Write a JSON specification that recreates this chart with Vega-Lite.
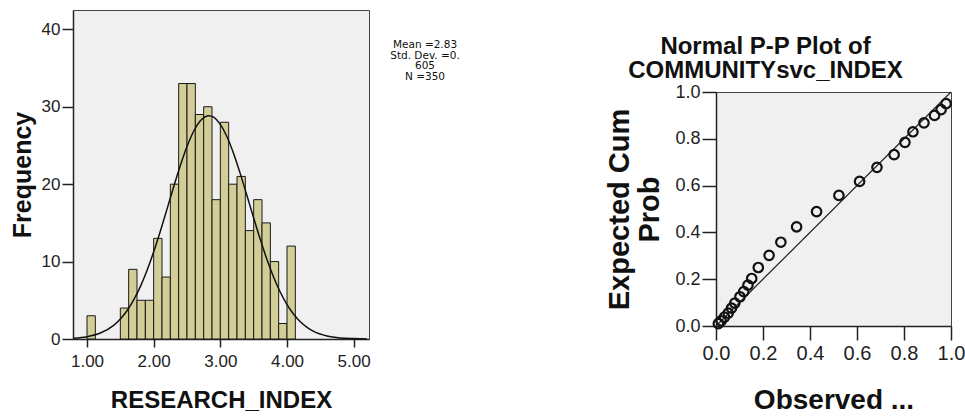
{
  "$schema": "https://vega.github.io/schema/vega-lite/v6.json",
  "background": "white",
  "padding": {"left": 9, "top": 9, "right": 0, "bottom": 0},
  "spacing": 144,
  "config": {
    "font": "Liberation Sans",
    "view": {"fill": "#f0f0f0", "stroke": "#444444", "strokeWidth": 1},
    "axis": {
      "grid": false,
      "domainColor": "#222222",
      "domainWidth": 1.5,
      "tickColor": "#222222",
      "tickWidth": 1.5,
      "labelColor": "#222222",
      "titleColor": "#111111",
      "labelFont": "Liberation Sans",
      "titleFont": "Liberation Sans",
      "titleFontWeight": "bold",
      "labelFlush": false,
      "labelOverlap": false
    }
  },
  "datasets": {
    "bins": [
      {"bin_start": 1.0, "bin_end": 1.125, "count": 3},
      {"bin_start": 1.5, "bin_end": 1.625, "count": 4},
      {"bin_start": 1.625, "bin_end": 1.75, "count": 9},
      {"bin_start": 1.75, "bin_end": 1.875, "count": 5},
      {"bin_start": 1.875, "bin_end": 2.0, "count": 5},
      {"bin_start": 2.0, "bin_end": 2.125, "count": 13},
      {"bin_start": 2.125, "bin_end": 2.25, "count": 8},
      {"bin_start": 2.25, "bin_end": 2.375, "count": 20},
      {"bin_start": 2.375, "bin_end": 2.5, "count": 33},
      {"bin_start": 2.5, "bin_end": 2.625, "count": 33},
      {"bin_start": 2.625, "bin_end": 2.75, "count": 29},
      {"bin_start": 2.75, "bin_end": 2.875, "count": 30},
      {"bin_start": 2.875, "bin_end": 3.0, "count": 18},
      {"bin_start": 3.0, "bin_end": 3.125, "count": 28},
      {"bin_start": 3.125, "bin_end": 3.25, "count": 20},
      {"bin_start": 3.25, "bin_end": 3.375, "count": 21},
      {"bin_start": 3.375, "bin_end": 3.5, "count": 14},
      {"bin_start": 3.5, "bin_end": 3.625, "count": 18},
      {"bin_start": 3.625, "bin_end": 3.75, "count": 15},
      {"bin_start": 3.75, "bin_end": 3.875, "count": 10},
      {"bin_start": 3.875, "bin_end": 4.0, "count": 2},
      {"bin_start": 4.0, "bin_end": 4.125, "count": 12}
    ],
    "curve": [
      {"x": 0.8, "freq": 0.10},
      {"x": 1.0, "freq": 0.30},
      {"x": 1.2, "freq": 0.77},
      {"x": 1.4, "freq": 1.77},
      {"x": 1.5, "freq": 2.58},
      {"x": 1.6, "freq": 3.65},
      {"x": 1.7, "freq": 5.04},
      {"x": 1.8, "freq": 6.77},
      {"x": 1.9, "freq": 8.85},
      {"x": 2.0, "freq": 11.26},
      {"x": 2.1, "freq": 13.93},
      {"x": 2.2, "freq": 16.78},
      {"x": 2.3, "freq": 19.66},
      {"x": 2.4, "freq": 22.41},
      {"x": 2.5, "freq": 24.86},
      {"x": 2.6, "freq": 26.84},
      {"x": 2.7, "freq": 28.19},
      {"x": 2.8, "freq": 28.81},
      {"x": 2.83, "freq": 28.85},
      {"x": 2.9, "freq": 28.66},
      {"x": 3.0, "freq": 27.73},
      {"x": 3.1, "freq": 26.12},
      {"x": 3.2, "freq": 23.93},
      {"x": 3.3, "freq": 21.33},
      {"x": 3.4, "freq": 18.51},
      {"x": 3.5, "freq": 15.63},
      {"x": 3.6, "freq": 12.84},
      {"x": 3.7, "freq": 10.26},
      {"x": 3.8, "freq": 7.98},
      {"x": 3.9, "freq": 6.04},
      {"x": 4.0, "freq": 4.45},
      {"x": 4.1, "freq": 3.19},
      {"x": 4.2, "freq": 2.22},
      {"x": 4.3, "freq": 1.51},
      {"x": 4.4, "freq": 0.99},
      {"x": 4.6, "freq": 0.40},
      {"x": 4.8, "freq": 0.14},
      {"x": 5.0, "freq": 0.05},
      {"x": 5.2, "freq": 0.01}
    ],
    "pp": [
      {"observed": 0.010, "expected": 0.010},
      {"observed": 0.022, "expected": 0.022},
      {"observed": 0.036, "expected": 0.038},
      {"observed": 0.052, "expected": 0.055},
      {"observed": 0.066, "expected": 0.076},
      {"observed": 0.080, "expected": 0.098},
      {"observed": 0.102, "expected": 0.125},
      {"observed": 0.118, "expected": 0.147},
      {"observed": 0.136, "expected": 0.175},
      {"observed": 0.152, "expected": 0.203},
      {"observed": 0.180, "expected": 0.250},
      {"observed": 0.226, "expected": 0.302},
      {"observed": 0.276, "expected": 0.358},
      {"observed": 0.343, "expected": 0.424},
      {"observed": 0.428, "expected": 0.489},
      {"observed": 0.523, "expected": 0.558},
      {"observed": 0.611, "expected": 0.618},
      {"observed": 0.685, "expected": 0.678},
      {"observed": 0.758, "expected": 0.732},
      {"observed": 0.804, "expected": 0.785},
      {"observed": 0.838, "expected": 0.830},
      {"observed": 0.885, "expected": 0.868},
      {"observed": 0.930, "expected": 0.900},
      {"observed": 0.958, "expected": 0.925},
      {"observed": 0.979, "expected": 0.950}
    ]
  },
  "hconcat": [
    {
      "width": 296,
      "height": 329,
      "layer": [
        {
          "data": {"name": "bins"},
          "mark": {"type": "rect", "fill": "#d3ce97", "stroke": "#1a1a1a", "strokeWidth": 1},
          "encoding": {
            "x": {
              "field": "bin_start", "type": "quantitative",
              "scale": {"domain": [0.79, 5.23], "nice": false, "zero": false},
              "axis": {"values": [1, 2, 3, 4, 5], "format": ".2f", "labelFontSize": 17, "tickSize": 8, "labelPadding": 6, "titleFontSize": 24, "titlePadding": 19},
              "title": "RESEARCH_INDEX"
            },
            "x2": {"field": "bin_end"},
            "y": {
              "field": "count", "type": "quantitative",
              "scale": {"domain": [0, 42.5], "nice": false},
              "axis": {"values": [0, 10, 20, 30, 40], "labelFontSize": 17, "tickSize": 11, "labelPadding": 2, "titleFontSize": 25, "titlePadding": 6},
              "title": "Frequency"
            },
            "y2": {"datum": 0}
          }
        },
        {
          "data": {"name": "curve"},
          "mark": {"type": "line", "color": "#111111", "strokeWidth": 1.5, "interpolate": "monotone"},
          "encoding": {
            "x": {"field": "x", "type": "quantitative"},
            "y": {"field": "freq", "type": "quantitative"}
          }
        },
        {
          "data": {"values": [{"label": "Mean =2.83\nStd. Dev. =0.\n605\nN =350"}]},
          "mark": {"type": "text", "font": "DejaVu Sans", "fontSize": 10.5, "lineHeight": 10.5, "lineBreak": "\n", "align": "center", "baseline": "top", "color": "#111111"},
          "encoding": {
            "x": {"datum": 6.07, "type": "quantitative"},
            "y": {"datum": 38.6, "type": "quantitative"},
            "text": {"field": "label"}
          }
        }
      ]
    },
    {
      "spacing": 0,
      "vconcat": [
        {
          "width": 1,
          "height": 24,
          "view": {"fill": null, "stroke": null},
          "data": {"values": [{"t": ""}]},
          "mark": {"type": "text"},
          "encoding": {"text": {"field": "t"}}
        },
        {
          "width": 235,
          "height": 234,
          "title": {
            "text": ["Normal P-P Plot of", "COMMUNITYsvc_INDEX"],
            "font": "Liberation Sans",
            "fontSize": 24,
            "fontWeight": "bold",
            "lineHeight": 24.5,
            "offset": 0,
            "dx": -68,
            "color": "#111111"
          },
          "layer": [
            {
              "data": {"values": [{}]},
              "mark": {"type": "rule", "color": "#222222", "strokeWidth": 1.2},
              "encoding": {
                "x": {"datum": 0, "type": "quantitative"},
                "y": {"datum": 0, "type": "quantitative"},
                "x2": {"datum": 1},
                "y2": {"datum": 1}
              }
            },
            {
              "data": {"name": "pp"},
              "mark": {"type": "point", "shape": "circle", "filled": false, "stroke": "#111111", "strokeWidth": 2.2, "size": 90, "opacity": 1},
              "encoding": {
                "x": {
                  "field": "observed", "type": "quantitative",
                  "scale": {"domain": [0, 1], "nice": false},
                  "axis": {"values": [0, 0.2, 0.4, 0.6, 0.8, 1], "format": ".1f", "labelFontSize": 20, "tickSize": 14, "labelPadding": 3, "titleFontSize": 28, "titlePadding": 23},
                  "title": "Observed ..."
                },
                "y": {
                  "field": "expected", "type": "quantitative",
                  "scale": {"domain": [0, 1], "nice": false},
                  "axis": {"values": [0, 0.2, 0.4, 0.6, 0.8, 1], "format": ".1f", "labelFontSize": 18, "tickSize": 14, "labelPadding": 2, "titleFontSize": 29, "titleLineHeight": 30, "titlePadding": 10},
                  "title": ["Expected Cum", "Prob"]
                }
              }
            }
          ]
        }
      ]
    }
  ]
}
